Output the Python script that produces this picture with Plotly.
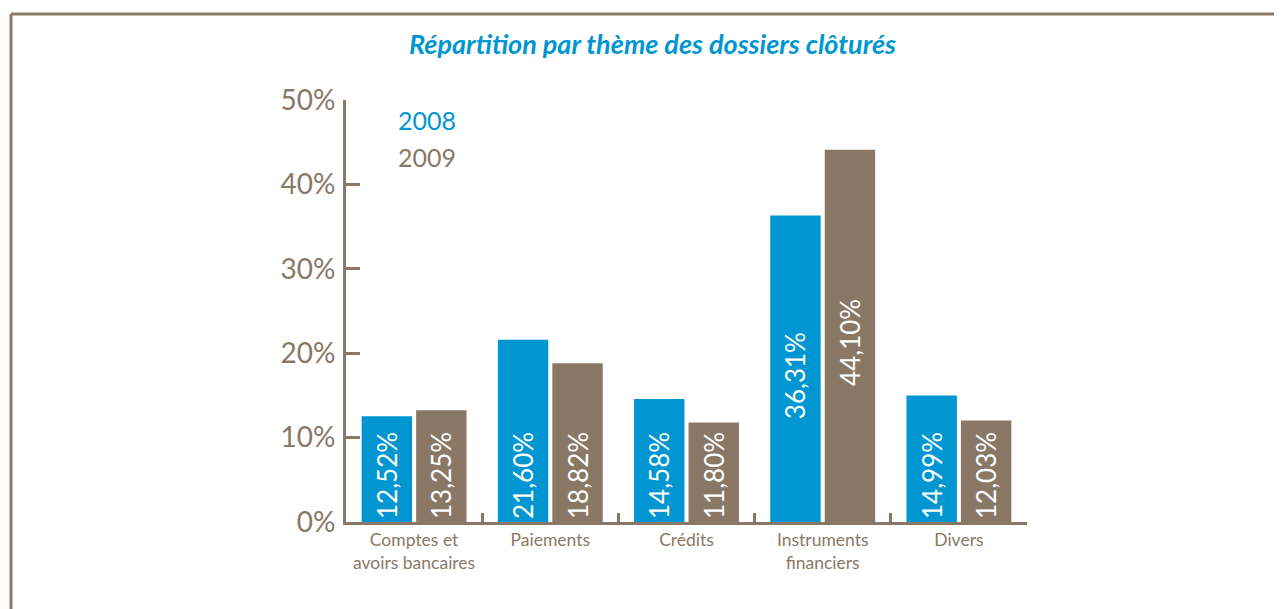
import plotly.graph_objects as go

categories = ["Comptes et<br>avoirs bancaires", "Paiements", "Crédits",
              "Instruments<br>financiers", "Divers"]
values_2008 = [12.52, 21.60, 14.58, 36.31, 14.99]
values_2009 = [13.25, 18.82, 11.80, 44.10, 12.03]
labels_2008 = ["12,52%", "21,60%", "14,58%", "36,31%", "14,99%"]
labels_2009 = ["13,25%", "18,82%", "11,80%", "44,10%", "12,03%"]
series_names = ["2008", "2009"]
y_ticks = [0, 10, 20, 30, 40, 50]
title_text = "Répartition par thème des dossiers clôturés"

BLUE = "#0096d1"
BROWN = "#8a7866"
FONT = "Lato"

# label lift (number of non-breaking spaces before label) - style only
lift_2008 = [0, 0, 0, 15, 0]
lift_2009 = [0, 0, 0, 20, 0]

def padded(labels, lift):
    return ["\u00a0" * n + t for t, n in zip(labels, lift)]

OFF = 8  # page body margin
PAGE_W, PAGE_H = 1282, 609
W, H = PAGE_W - OFF, PAGE_H - OFF
# plot area in page pixels
PL, PR, PT, PB = 346, 1027, 100, 522
ML, MT = PL - OFF, PT - OFF
MR, MB = W - (PR - OFF), H - (PB - OFF)
PW, PH = PR - PL, PB - PT

def px_x(x):
    return (x - PL) / PW

def px_y(y):
    return (PB - y) / PH

fig = go.Figure()
for name, vals, labs, lift, col in [
    (series_names[0], values_2008, labels_2008, lift_2008, BLUE),
    (series_names[1], values_2009, labels_2009, lift_2009, BROWN),
]:
    fig.add_trace(go.Bar(
        x=categories, y=vals, name=name, marker_color=col,
        marker_line_width=0,
        text=padded(labs, lift), textposition="inside",
        insidetextanchor="start", textangle=-90,
        textfont=dict(family=FONT, size=26, color="white"),
        constraintext="none", cliponaxis=False, hoverinfo="skip",
    ))

# invisible overlay axis for boundary ticks
fig.add_trace(go.Scatter(x=[-0.5, 4.5], y=[0, 0], xaxis="x2", mode="markers",
                         marker=dict(opacity=0), showlegend=False, hoverinfo="skip"))

fig.update_layout(
    width=W, height=H,
    margin=dict(l=ML, r=MR, t=MT, b=MB, autoexpand=False),
    paper_bgcolor="white", plot_bgcolor="white",
    barmode="group", bargap=0.2, bargroupgap=0.075,
    showlegend=False,
    xaxis=dict(showline=True, linecolor=BROWN, linewidth=3, ticks="",
               tickfont=dict(family=FONT, size=17.5, color=BROWN),
               showgrid=False, zeroline=False, range=[-0.5, 4.5]),
    xaxis2=dict(overlaying="x", anchor="y", side="bottom", range=[-0.5, 4.5],
                tickmode="array", tickvals=[-0.5, 0.5, 1.5, 2.5, 3.5, 4.5],
                ticks="inside", ticklen=9, tickwidth=3, tickcolor=BROWN,
                showticklabels=False, showgrid=False, zeroline=False, showline=False),
    yaxis=dict(range=[0, 50], tickmode="array", tickvals=y_ticks,
               ticktext=[f"{v}%" for v in y_ticks],
               ticks="inside", ticklen=14, tickwidth=3, tickcolor=BROWN,
               showline=True, linecolor=BROWN, linewidth=3,
               tickfont=dict(family=FONT, size=28, color=BROWN),
               ticklabelstandoff=2,
               showgrid=False, zeroline=False),
    font=dict(family=FONT, color=BROWN),
)

# title
fig.add_annotation(text=f"<b><i>{title_text}</i></b>", xref="paper", yref="paper",
                   x=px_x(652), y=px_y(43), xanchor="center", yanchor="middle",
                   showarrow=False, font=dict(family=FONT, size=27, color=BLUE))

# legend
for name, col, yy in [(series_names[0], BLUE, 120), (series_names[1], BROWN, 157)]:
    fig.add_annotation(text=name, xref="paper", yref="paper", x=px_x(396), y=px_y(yy),
                       xanchor="left", yanchor="middle", showarrow=False,
                       font=dict(family=FONT, size=25, color=col))

# frame (top and left border)
fig.add_shape(type="line", xref="paper", yref="paper",
              x0=px_x(11), x1=px_x(1300), y0=px_y(14), y1=px_y(14),
              line=dict(color=BROWN, width=3))
fig.add_shape(type="line", xref="paper", yref="paper",
              x0=px_x(11), x1=px_x(11), y0=px_y(14), y1=px_y(640),
              line=dict(color=BROWN, width=3))

fig.write_html("out.html")
